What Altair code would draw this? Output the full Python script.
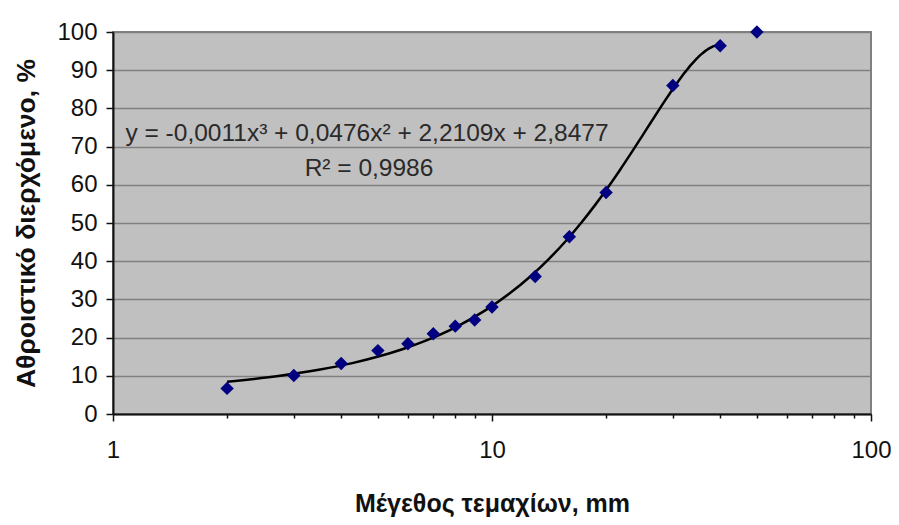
import altair as alt
import pandas as pd

# data
sizes = [2, 3, 4, 5, 6, 7, 8, 9, 10, 13, 16, 20, 30, 40, 50]
passing = [6.7, 10.1, 13.2, 16.6, 18.4, 21.0, 23.0, 24.6, 28.0, 36.0, 46.4, 58.0, 86.0, 96.4, 100.0]
major_x = [1, 10, 100]
minor_x = [2, 3, 4, 5, 6, 7, 8, 9, 20, 30, 40, 50, 60, 70, 80, 90]
y_ticks = [0, 10, 20, 30, 40, 50, 60, 70, 80, 90, 100]
eq_text = ["y = -0,0011x³ + 0,0476x² + 2,2109x + 2,8477"]
r2_text = ["R² = 0,9986"]

df = pd.DataFrame({"size": sizes, "pass": passing})

FONT = "Liberation Sans"
W, H = 758, 382
xscale = alt.Scale(type="log", domain=[1, 100])
yscale = alt.Scale(domain=[0, 100])

y_axis = alt.Axis(
    values=y_ticks, title="Αθροιστικό διερχόμενο, %", tickSize=7, tickColor="#111",
    tickWidth=1.5, domainColor="#111", domainWidth=2, grid=True, gridColor="#808080",
    gridWidth=1.5, labelFont=FONT, labelFontSize=24, labelColor="#111", labelPadding=9,
    titleFont=FONT, titleFontSize=26.5, titleFontWeight="bold", titleColor="#111",
    titleAngle=270, titleX=-79, titleY=H / 2, titleAlign="center", titleBaseline="alphabetic",
)

x_axis_major = alt.Axis(
    values=major_x, title="Μέγεθος τεμαχίων, mm", orient="bottom", tickSize=7,
    tickColor="#111", tickWidth=1.5, domainColor="#111", domainWidth=2, grid=False,
    labelFont=FONT, labelFontSize=24, labelColor="#111", labelPadding=17, format="d",
    labelFlush=False,
    titleFont=FONT, titleFontSize=25, titleFontWeight="bold", titleColor="#111",
    titleY=97, titleBaseline="alphabetic",
)

x_axis_minor = alt.Axis(
    values=minor_x, title=None, orient="bottom", tickSize=4, tickColor="#111",
    tickWidth=1.5, domain=False, grid=False, labels=False,
)

points = alt.Chart(df).mark_point(
    shape="diamond", filled=True, color="#000080", size=180, opacity=1
).encode(
    x=alt.X("size:Q", scale=xscale, axis=x_axis_major),
    y=alt.Y("pass:Q", scale=yscale, axis=y_axis),
)

trend = alt.Chart(df).transform_filter(
    alt.datum.size <= 40
).transform_regression(
    "size", "pass", method="poly", order=3, extent=[2, 40]
).mark_line(color="black", strokeWidth=2.5, clip=True, interpolate="monotone").encode(
    x=alt.X("size:Q", scale=xscale, axis=x_axis_minor),
    y=alt.Y("pass:Q", scale=yscale, axis=y_axis),
)

eq = alt.Chart(pd.DataFrame({"t": eq_text})).mark_text(
    font=FONT, fontSize=24.5, color="#2a2a2a", align="center", baseline="alphabetic"
).encode(x=alt.value(254), y=alt.value(109), text="t:N")

r2 = alt.Chart(pd.DataFrame({"t": r2_text})).mark_text(
    font=FONT, fontSize=24.5, color="#2a2a2a", align="center", baseline="alphabetic"
).encode(x=alt.value(256), y=alt.value(144), text="t:N")

chart = alt.layer(trend, points, eq, r2).resolve_axis(x="independent", y="shared").properties(
    width=W, height=H,
    autosize=alt.AutoSizeParams(type="none"),
    padding={"left": 105, "top": 24, "right": 20, "bottom": 103},
    background="white",
).configure_view(
    fill="#C0C0C0", stroke="#808080", strokeWidth=2
)

chart.save("out.html", embed_options={"renderer": "svg", "actions": False})
